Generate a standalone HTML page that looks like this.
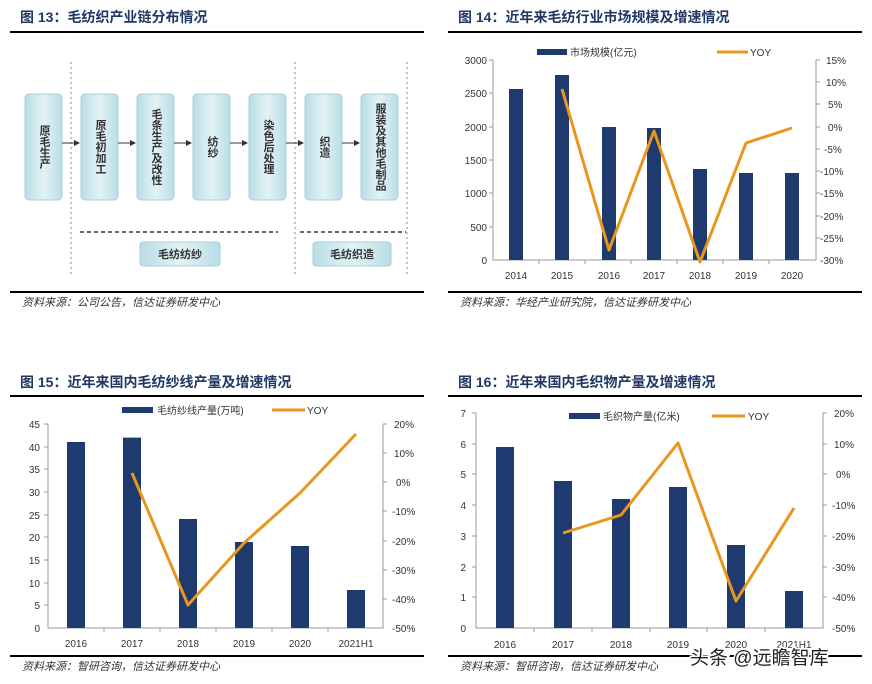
<!DOCTYPE html>
<html><head><meta charset="utf-8"><style>
body{margin:0;background:#fff}
svg{display:block;font-family:"Liberation Sans","Noto Sans CJK SC",sans-serif}
.t{font-size:14px;font-weight:bold;fill:#1f3864}
.s{font-size:11px;font-style:italic;fill:#333}
.k{font-size:10px;fill:#333}
.b{fill:#1f3a6e}
.l{fill:none;stroke:#e8961e;stroke-width:3;stroke-linejoin:round}
.ax{stroke:#999;stroke-width:1;fill:none}
.bt{font-size:11px;fill:#333}
</style></head><body>
<svg width="872" height="684" viewBox="0 0 872 684">
<defs><linearGradient id="g" x1="0" x2="1"><stop offset="0" stop-color="#b9dde6"/><stop offset=".5" stop-color="#e3f3f6"/><stop offset="1" stop-color="#b9dde6"/></linearGradient>
<marker id="ar" markerWidth="6" markerHeight="6" refX="5" refY="3" orient="auto"><path d="M0,0L6,3L0,6z" fill="#333"/></marker></defs>

<!-- Chart 13 -->
<text x="20" y="22" class="t">图 13：毛纺织产业链分布情况</text>
<line x1="10" y1="32" x2="424" y2="32" stroke="#000" stroke-width="2"/>
<g stroke="#888" stroke-dasharray="2,3">
<line x1="71" y1="62" x2="71" y2="276"/><line x1="295" y1="62" x2="295" y2="276"/><line x1="407" y1="62" x2="407" y2="276"/></g>
<g fill="url(#g)" stroke="#a9cfd8">
<rect x="25" y="94" width="37" height="106" rx="4"/><rect x="81" y="94" width="37" height="106" rx="4"/><rect x="137" y="94" width="37" height="106" rx="4"/><rect x="193" y="94" width="37" height="106" rx="4"/><rect x="249" y="94" width="37" height="106" rx="4"/><rect x="305" y="94" width="37" height="106" rx="4"/><rect x="361" y="94" width="37" height="106" rx="4"/>
<rect x="140" y="242" width="80" height="24" rx="3"/><rect x="313" y="242" width="78" height="24" rx="3"/></g>
<g stroke="#333" marker-end="url(#ar)">
<line x1="62" y1="143" x2="79" y2="143"/><line x1="118" y1="143" x2="135" y2="143"/><line x1="174" y1="143" x2="191" y2="143"/><line x1="230" y1="143" x2="247" y2="143"/><line x1="286" y1="143" x2="303" y2="143"/><line x1="342" y1="143" x2="359" y2="143"/></g>
<g stroke="#333" stroke-dasharray="4,3" stroke-width="1.5">
<line x1="80" y1="232" x2="278" y2="232"/><line x1="300" y1="232" x2="406" y2="232"/></g>
<g class="bt" text-anchor="middle" style="writing-mode:tb" font-weight="bold">
<text x="44" y="147">原毛生产</text><text x="100" y="147">原毛初加工</text><text x="156" y="147">毛条生产及改性</text><text x="212" y="147">纺纱</text><text x="268" y="147">染色后处理</text><text x="324" y="147">织造</text><text x="380" y="147">服装及其他毛制品</text></g>
<text x="180" y="258" class="bt" text-anchor="middle" font-weight="bold">毛纺纺纱</text>
<text x="352" y="258" class="bt" text-anchor="middle" font-weight="bold">毛纺织造</text>
<line x1="10" y1="292" x2="424" y2="292" stroke="#000" stroke-width="2"/>
<text x="22" y="306" class="s">资料来源：公司公告，信达证券研发中心</text>

<!-- Chart 14 -->
<text x="458" y="22" class="t">图 14：近年来毛纺行业市场规模及增速情况</text>
<line x1="448" y1="32" x2="862" y2="32" stroke="#000" stroke-width="2"/>
<rect x="537" y="49" width="30" height="6" class="b"/><text x="570" y="56" class="k">市场规模(亿元)</text>
<line x1="717" y1="52" x2="748" y2="52" stroke="#e8961e" stroke-width="3"/><text x="750" y="56" class="k">YOY</text>
<path class="ax" d="M493,60V260H816V60M489,60H493M489,93H493M489,127H493M489,160H493M489,193H493M489,227H493M816,60h4M816,82h4M816,104h4M816,127h4M816,149h4M816,171h4M816,193h4M816,216h4M816,238h4M539,260v4M585,260v4M631,260v4M677,260v4M723,260v4M769,260v4"/>
<g class="k" text-anchor="end"><text x="487" y="64">3000</text><text x="487" y="97">2500</text><text x="487" y="131">2000</text><text x="487" y="164">1500</text><text x="487" y="197">1000</text><text x="487" y="231">500</text><text x="487" y="264">0</text></g>
<g class="k"><text x="826" y="64">15%</text><text x="826" y="86">10%</text><text x="828" y="108">5%</text><text x="828" y="131">0%</text><text x="824" y="153">-5%</text><text x="820" y="175">-10%</text><text x="820" y="197">-15%</text><text x="820" y="220">-20%</text><text x="820" y="242">-25%</text><text x="820" y="264">-30%</text></g>
<g class="b"><rect x="509" y="89" width="14" height="171"/><rect x="555" y="75" width="14" height="185"/><rect x="602" y="127" width="14" height="133"/><rect x="647" y="128" width="14" height="132"/><rect x="693" y="169" width="14" height="91"/><rect x="739" y="173" width="14" height="87"/><rect x="785" y="173" width="14" height="87"/></g>
<polyline class="l" points="562,89 609,250 654,131 700,262 746,143 792,128"/>
<g class="k" text-anchor="middle"><text x="516" y="279">2014</text><text x="562" y="279">2015</text><text x="609" y="279">2016</text><text x="654" y="279">2017</text><text x="700" y="279">2018</text><text x="746" y="279">2019</text><text x="792" y="279">2020</text></g>
<line x1="448" y1="292" x2="862" y2="292" stroke="#000" stroke-width="2"/>
<text x="460" y="306" class="s">资料来源：华经产业研究院，信达证券研发中心</text>

<!-- Chart 15 -->
<text x="20" y="387" class="t">图 15：近年来国内毛纺纱线产量及增速情况</text>
<line x1="10" y1="396" x2="424" y2="396" stroke="#000" stroke-width="2"/>
<rect x="122" y="407" width="31" height="6" class="b"/><text x="157" y="414" class="k">毛纺纱线产量(万吨)</text>
<line x1="272" y1="410" x2="305" y2="410" stroke="#e8961e" stroke-width="3"/><text x="307" y="414" class="k">YOY</text>
<path class="ax" d="M48,424V628H383V424M44,424H48M44,447H48M44,469H48M44,492H48M44,515H48M44,537H48M44,560H48M44,583H48M44,605H48M383,424h4M383,453h4M383,482h4M383,511h4M383,541h4M383,570h4M383,599h4M104,628v4M160,628v4M216,628v4M272,628v4M328,628v4"/>
<g class="k" text-anchor="end"><text x="40" y="428">45</text><text x="40" y="451">40</text><text x="40" y="473">35</text><text x="40" y="496">30</text><text x="40" y="519">25</text><text x="40" y="541">20</text><text x="40" y="564">15</text><text x="40" y="587">10</text><text x="40" y="609">5</text><text x="40" y="632">0</text></g>
<g class="k"><text x="394" y="428">20%</text><text x="394" y="457">10%</text><text x="396" y="486">0%</text><text x="392" y="515">-10%</text><text x="392" y="545">-20%</text><text x="392" y="574">-30%</text><text x="392" y="603">-40%</text><text x="392" y="632">-50%</text></g>
<g class="b"><rect x="67" y="442" width="18" height="186"/><rect x="123" y="437.6" width="18" height="190.4"/><rect x="179" y="519" width="18" height="109"/><rect x="235" y="542" width="18" height="86"/><rect x="291" y="546" width="18" height="82"/><rect x="347" y="590" width="18" height="38"/></g>
<polyline class="l" points="132,473 188,605 244,543 300,493 356,434"/>
<g class="k" text-anchor="middle"><text x="76" y="647">2016</text><text x="132" y="647">2017</text><text x="188" y="647">2018</text><text x="244" y="647">2019</text><text x="300" y="647">2020</text><text x="356" y="647">2021H1</text></g>
<line x1="10" y1="656" x2="424" y2="656" stroke="#000" stroke-width="2"/>
<text x="22" y="670" class="s">资料来源：智研咨询，信达证券研发中心</text>

<!-- Chart 16 -->
<text x="458" y="387" class="t">图 16：近年来国内毛织物产量及增速情况</text>
<line x1="448" y1="396" x2="862" y2="396" stroke="#000" stroke-width="2"/>
<rect x="569" y="413" width="31" height="6" class="b"/><text x="603" y="420" class="k">毛织物产量(亿米)</text>
<line x1="712" y1="416" x2="745" y2="416" stroke="#e8961e" stroke-width="3"/><text x="748" y="420" class="k">YOY</text>
<path class="ax" d="M476,413V628H823V413M472,413H476M472,444H476M472,474H476M472,505H476M472,536H476M472,567H476M472,597H476M823,413h4M823,444h4M823,474h4M823,505h4M823,536h4M823,567h4M823,597h4M534,628v4M592,628v4M650,628v4M707,628v4M765,628v4"/>
<g class="k" text-anchor="end"><text x="466" y="417">7</text><text x="466" y="448">6</text><text x="466" y="478">5</text><text x="466" y="509">4</text><text x="466" y="540">3</text><text x="466" y="571">2</text><text x="466" y="601">1</text><text x="466" y="632">0</text></g>
<g class="k"><text x="834" y="417">20%</text><text x="834" y="448">10%</text><text x="836" y="478">0%</text><text x="832" y="509">-10%</text><text x="832" y="540">-20%</text><text x="832" y="571">-30%</text><text x="832" y="601">-40%</text><text x="832" y="632">-50%</text></g>
<g class="b"><rect x="496" y="447" width="18" height="181"/><rect x="554" y="481" width="18" height="147"/><rect x="612" y="499" width="18" height="129"/><rect x="669" y="487" width="18" height="141"/><rect x="727" y="545" width="18" height="83"/><rect x="785" y="591" width="18" height="37"/></g>
<polyline class="l" points="563,533 621,515 678,443 736,601 794,508"/>
<g class="k" text-anchor="middle"><text x="505" y="648">2016</text><text x="563" y="648">2017</text><text x="621" y="648">2018</text><text x="678" y="648">2019</text><text x="736" y="648">2020</text><text x="794" y="648">2021H1</text></g>
<line x1="448" y1="656" x2="862" y2="656" stroke="#000" stroke-width="2"/>
<text x="460" y="670" class="s">资料来源：智研咨询，信达证券研发中心</text>
<text x="690" y="664" font-size="19" fill="#222" stroke="#fff" stroke-width="3" paint-order="stroke">头条 @远瞻智库</text>
</svg>
</body></html>
